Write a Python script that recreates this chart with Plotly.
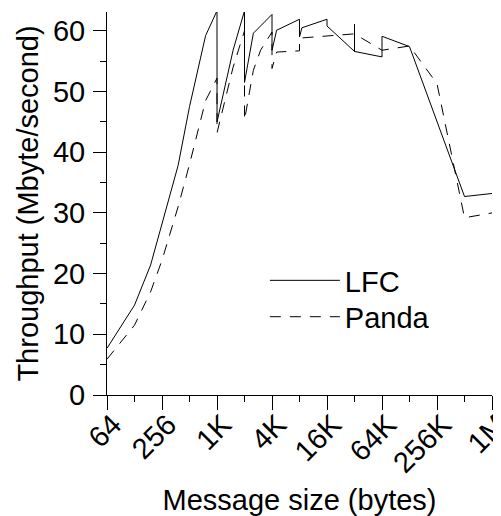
import plotly.graph_objects as go
import math

# ---- data ----
lfc_sizes = [64, 128, 192, 256, 384, 512, 768, 1024, 1025, 1536, 2048, 2049, 2560,
             4096, 4097, 4608, 8192, 8193, 8704, 16384, 16385, 32767, 32768, 32769,
             65536, 65537, 131072, 262144, 524288, 1048576]
lfc_tput = [7.7, 14.8, 21.4, 28.3, 37.8, 47.5, 59.2, 63.3, 45.0, 56.8, 63.3, 51.5, 59.6,
            62.7, 56.8, 60.1, 61.9, 59.0, 60.5, 61.9, 60.8, 56.6, 61.1, 56.6,
            55.7, 59.1, 57.4, 45.0, 32.7, 33.2]

panda_sizes = [64, 128, 192, 256, 384, 512, 768, 1024, 1025, 1536, 2048, 2049, 2560,
               3072, 4096, 4097, 4608, 8192, 8193, 16384, 32768, 65536, 131072,
               262144, 524288, 1048576]
panda_tput = [5.9, 11.5, 17.0, 22.2, 31.0, 38.0, 48.5, 52.2, 43.2, 54.0, 60.0, 45.3, 53.5,
              56.8, 59.8, 53.8, 56.5, 56.7, 58.8, 59.2, 59.5, 56.8, 57.5,
              51.3, 29.2, 30.0]

x_major = [64, 256, 1024, 4096, 16384, 65536, 262144, 1048576]
x_major_text = ["64", "256", "1K", "4K", "16K", "64K", "256K", "1M"]
x_minor = [128, 512, 2048, 8192, 32768, 131072, 524288]
y_major = [0, 10, 20, 30, 40, 50, 60]
y_minor = [5, 15, 25, 35, 45, 55]

FONT = "Liberation Sans, Arial, Helvetica, sans-serif"
FS = 29

fig = go.Figure()
fig.add_trace(go.Scatter(x=lfc_sizes, y=lfc_tput, mode="lines", name="LFC",
                         line=dict(color="black", width=1), legend="legend"))
fig.add_trace(go.Scatter(x=panda_sizes, y=panda_tput, mode="lines", name="Panda",
                         line=dict(color="black", width=1, dash="11px,9px"),
                         legend="legend2"))

leg_common = dict(xanchor="left", yanchor="middle", bgcolor="rgba(0,0,0,0)",
                  itemwidth=70, font=dict(size=FS))

# page body has an 8px default margin, so the figure is sized/offset to compensate
fig.update_layout(
    width=493, height=508,
    margin=dict(l=99, r=9, t=4, b=121),
    paper_bgcolor="white", plot_bgcolor="white",
    font=dict(family=FONT, size=FS, color="black"),
    showlegend=True,
    legend=dict(x=0.410, y=0.299, **leg_common),
    legend2=dict(x=0.410, y=0.204, **leg_common),
    xaxis=dict(
        type="log",
        range=[math.log10(64) - 1e-6, math.log10(1048576) + 1e-6],
        tickmode="array", tickvals=x_major, ticktext=x_major_text,
        ticks="outside", ticklen=14, tickwidth=1, tickcolor="black",
        tickangle=-45, ticklabelstandoff=-14, ticklabelshift=6,
        ticklabeloverflow="allow",
        minor=dict(tickmode="array", tickvals=x_minor, ticks="outside",
                   ticklen=6, tickwidth=1, tickcolor="black", showgrid=False),
        showline=True, linecolor="black", linewidth=1,
        showgrid=False, zeroline=False,
        title=dict(text="Message size (bytes)", font=dict(size=FS), standoff=12),
        automargin=False,
    ),
    yaxis=dict(
        range=[0, 63.1],
        tickmode="array", tickvals=y_major,
        ticks="outside", ticklen=13, tickwidth=1, tickcolor="black",
        ticklabelstandoff=2,
        minor=dict(tickmode="array", tickvals=y_minor, ticks="outside",
                   ticklen=6, tickwidth=1, tickcolor="black", showgrid=False),
        showline=True, linecolor="black", linewidth=1,
        showgrid=False, zeroline=False,
        title=dict(text="Throughput (Mbyte/second)", font=dict(size=FS), standoff=5),
        automargin=False,
    ),
)

fig.write_html("out.html")
